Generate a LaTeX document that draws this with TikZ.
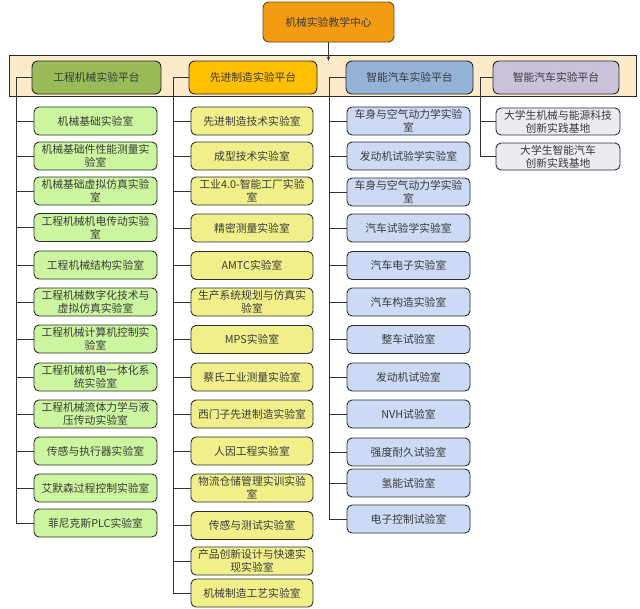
\documentclass[tikz,border=0pt]{standalone}
\usepackage{fontspec}
\setmainfont{Noto Sans CJK SC}
\usetikzlibrary{arrows.meta}
\definecolor{topfill}{HTML}{F39B12}
\definecolor{topdraw}{HTML}{6E4A14}
\definecolor{bandfill}{HTML}{FCEBCB}
\definecolor{gpfill}{HTML}{9BBB59}
\definecolor{ypfill}{HTML}{FFC000}
\definecolor{bpfill}{HTML}{95B3D7}
\definecolor{ppfill}{HTML}{CCC1DA}
\definecolor{gcfill}{HTML}{CBF59E}
\definecolor{ycfill}{HTML}{F1EF8A}
\definecolor{bcfill}{HTML}{CCDAF5}
\definecolor{pcfill}{HTML}{EDEAF2}
\definecolor{txt}{HTML}{3A3A3A}
\definecolor{edge}{HTML}{2E2E2E}
\definecolor{conn}{HTML}{333333}
\tikzset{
  boxbase/.style={draw=edge, line width=0.9pt, rounded corners=5pt, text=txt,
    font=\fontsize{10.8}{13}\selectfont, align=center, inner sep=1.5pt},
  topbox/.style={boxbase, fill=topfill, draw=topdraw, minimum width=131pt, minimum height=40pt, rounded corners=6pt},
  platbox/.style={boxbase, minimum height=33pt, rounded corners=6pt, draw=edge!85!black},
  gplat/.style={platbox, fill=gpfill, minimum width=129pt},
  yplat/.style={platbox, fill=ypfill, minimum width=128pt},
  bplat/.style={platbox, fill=bpfill, minimum width=127pt},
  pplat/.style={platbox, fill=ppfill, minimum width=126pt},
  gbox/.style={boxbase, fill=gcfill, text width=120pt, minimum height=28pt},
  ybox/.style={boxbase, fill=ycfill, text width=119pt, minimum height=28pt},
  bbox/.style={boxbase, fill=bcfill, text width=120pt, minimum height=28pt},
  pbox/.style={boxbase, fill=pcfill, text width=121pt, minimum height=27pt},
  link/.style={draw=conn, line width=0.9pt},
}
\begin{document}
\begin{tikzpicture}[x=1pt,y=-1pt]
\useasboundingbox (0,0) rectangle (640,608);
% band
\draw[fill=bandfill, draw=black!85, line width=0.9pt] (9,55) rectangle (636,96);
% top
\node[topbox] (top) at (328.5,22) {机械实验教学中心};
\coordinate (bandin) at (328.5,61);
\draw[link, -{Stealth[length=4.5pt,width=3.5pt]}] (top.south) -- (bandin);
% platforms
\node[gplat] (gp) at (96.5,77.5) {工程机械实验平台};
\node[yplat] (yp) at (253,77.5) {先进制造实验平台};
\node[bplat] (bp) at (409.5,77.5) {智能汽车实验平台};
\node[pplat] (pp) at (556,77.5) {智能汽车实验平台};
% green column
\node[gbox] (g1) at (95.5,121) {机械基础实验室};
\node[gbox] (g2) at (95.5,156) {机械基础件性能测量实\\验室};
\node[gbox] (g3) at (95.5,191) {机械基础虚拟仿真实验\\室};
\node[gbox] (g4) at (95.5,227.5) {工程机械机电传动实验\\室};
\node[gbox] (g5) at (95.5,265) {工程机械结构实验室};
\node[gbox] (g6) at (95.5,302) {工程机械数字化技术与\\虚拟仿真实验室};
\node[gbox] (g7) at (95.5,339) {工程机械计算机控制实\\验室};
\node[gbox] (g8) at (95.5,377) {工程机械机电一体化系\\统实验室};
\node[gbox] (g9) at (95.5,414) {工程机械流体力学与液\\压传动实验室};
\node[gbox] (g10) at (95.5,451) {传感与执行器实验室};
\node[gbox] (g11) at (95.5,488) {艾默森过程控制实验室};
\node[gbox] (g12) at (95.5,523) {菲尼克斯PLC实验室};
% yellow column
\node[ybox] (y1) at (252,121) {先进制造技术实验室};
\node[ybox] (y2) at (252,156) {成型技术实验室};
\node[ybox] (y3) at (252,191) {工业4.0-智能工厂实验\\室};
\node[ybox] (y4) at (252,228) {精密测量实验室};
\node[ybox] (y5) at (252,265.5) {AMTC实验室};
\node[ybox] (y6) at (252,302) {生产系统规划与仿真实\\验室};
\node[ybox] (y7) at (252,339.5) {MPS实验室};
\node[ybox] (y8) at (252,377) {蔡氏工业测量实验室};
\node[ybox] (y9) at (252,414) {西门子先进制造实验室};
\node[ybox] (y10) at (252,451) {人因工程实验室};
\node[ybox] (y11) at (252,488) {物流仓储管理实训实验\\室};
\node[ybox] (y12) at (252,525.5) {传感与测试实验室};
\node[ybox] (y13) at (252,561) {产品创新设计与快速实\\现实验室};
\node[ybox] (y14) at (252,593) {机械制造工艺实验室};
% blue column
\node[bbox] (b1) at (408.5,121) {车身与空气动力学实验\\室};
\node[bbox] (b2) at (408.5,156) {发动机试验学实验室};
\node[bbox] (b3) at (408.5,192) {车身与空气动力学实验\\室};
\node[bbox] (b4) at (408.5,228) {汽车试验学实验室};
\node[bbox] (b5) at (408.5,265.5) {汽车电子实验室};
\node[bbox] (b6) at (408.5,302) {汽车构造实验室};
\node[bbox] (b7) at (408.5,339.5) {整车试验室};
\node[bbox] (b8) at (408.5,377) {发动机试验室};
\node[bbox] (b9) at (408.5,414) {NVH试验室};
\node[bbox] (b10) at (408.5,452) {强度耐久试验室};
\node[bbox] (b11) at (408.5,483) {氢能试验室};
\node[bbox] (b12) at (408.5,519) {电子控制试验室};
% purple column
\node[pbox] (p1) at (558,121.5) {大学生机械与能源科技\\创新实践基地};
\node[pbox] (p2) at (558,156.5) {大学生智能汽车\\创新实践基地};
% connectors
\coordinate (gv) at (16,77.5);
\coordinate (yv) at (173,77.5);
\coordinate (bv) at (329,77.5);
\coordinate (pv) at (480,77.5);
\draw[link] (gp.west) -- (gv) -- (gv |- g12.west) -- (g12.west);
\foreach \i in {1,...,11} \draw[link] (gv |- g\i.west) -- (g\i.west);
\draw[link] (yp.west) -- (yv) -- (yv |- y14.west) -- (y14.west);
\foreach \i in {1,...,13} \draw[link] (yv |- y\i.west) -- (y\i.west);
\draw[link] (bp.west) -- (bv) -- (bv |- b12.west) -- (b12.west);
\foreach \i in {1,...,11} \draw[link] (bv |- b\i.west) -- (b\i.west);
\draw[link] (pp.west) -- (pv) -- (pv |- p2.west) -- (p2.west);
\draw[link] (pv |- p1.west) -- (p1.west);
\end{tikzpicture}
\end{document}
